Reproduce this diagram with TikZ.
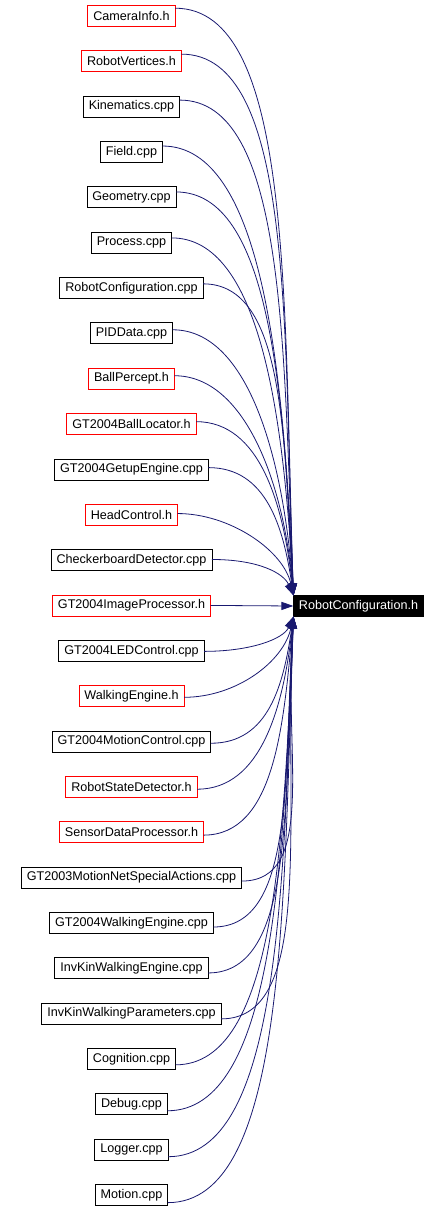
\documentclass[tikz,border=0pt]{standalone}
\usepackage{fontspec}
\setmainfont{Liberation Sans}
\usepackage{tikz}
\usetikzlibrary{positioning, arrows.meta}
\definecolor{edgeblue}{HTML}{191970}

\begin{document}
\begin{tikzpicture}[
  x=1pt, y=-1pt,
  node distance=24.34pt,
  filebox/.style={draw=black, line width=0.8pt, outer sep=0pt, minimum height=21pt, inner xsep=5.5pt, inner ysep=2pt, font=\fontsize{12.6}{14}\selectfont},
  redbox/.style={filebox, draw=red},
  target/.style={filebox, fill=black, text=white},
  arrow/.style={draw=edgeblue, line width=0.8pt, -{Triangle[length=12pt, width=8pt]}},
]
  \useasboundingbox (0,0) rectangle (439,1212);

  % Files that include the header
  \node (src1) [redbox] at (131.5,16) {CameraInfo.h};
  \node (src2) [redbox, below=of src1] {RobotVertices.h};
  \node (src3) [filebox, below=of src2] {Kinematics.cpp};
  \node (src4) [filebox, below=of src3] {Field.cpp};
  \node (src5) [filebox, below=of src4] {Geometry.cpp};
  \node (src6) [filebox, below=of src5] {Process.cpp};
  \node (src7) [filebox, below=of src6] {RobotConfiguration.cpp};
  \node (src8) [filebox, below=of src7] {PIDData.cpp};
  \node (src9) [redbox, below=of src8] {BallPercept.h};
  \node (src10) [redbox, below=of src9] {GT2004BallLocator.h};
  \node (src11) [filebox, below=of src10] {GT2004GetupEngine.cpp};
  \node (src12) [redbox, below=of src11] {HeadControl.h};
  \node (src13) [filebox, below=of src12] {CheckerboardDetector.cpp};
  \node (src14) [redbox, below=of src13] {GT2004ImageProcessor.h};
  \node (src15) [filebox, below=of src14] {GT2004LEDControl.cpp};
  \node (src16) [redbox, below=of src15] {WalkingEngine.h};
  \node (src17) [filebox, below=of src16] {GT2004MotionControl.cpp};
  \node (src18) [redbox, below=of src17] {RobotStateDetector.h};
  \node (src19) [redbox, below=of src18] {SensorDataProcessor.h};
  \node (src20) [filebox, below=of src19] {GT2003MotionNetSpecialActions.cpp};
  \node (src21) [filebox, below=of src20] {GT2004WalkingEngine.cpp};
  \node (src22) [filebox, below=of src21] {InvKinWalkingEngine.cpp};
  \node (src23) [filebox, below=of src22] {InvKinWalkingParameters.cpp};
  \node (src24) [filebox, below=of src23] {Cognition.cpp};
  \node (src25) [filebox, below=of src24] {Debug.cpp};
  \node (src26) [filebox, below=of src25] {Logger.cpp};
  \node (src27) [filebox, below=of src26] {Motion.cpp};

  % The included header
  \node (tgt) [target] at (358.5,606) {RobotConfiguration.h};

  % Edges from the files above
  \foreach \i in {1,...,13} {
    \pgfmathsetmacro\off{(14-\i)*0.6}
    \pgfmathsetmacro\len{40+(14-\i)*6}
    \pgfmathsetmacro\lift{(14-\i)*45.34*0.5}
    \draw [arrow] ([yshift=\off pt]src\i.east) .. controls +(\len,0) and +(-10,-\lift) .. (tgt.north west);
  }

  \draw [arrow] (src14.east) -- (tgt.west);

  % Edges from the files below
  \foreach \i in {15,...,27} {
    \pgfmathsetmacro\off{(\i-14)*0.6}
    \pgfmathsetmacro\len{40+(\i-14)*6}
    \pgfmathsetmacro\lift{(\i-14)*45.34*0.5}
    \draw [arrow] ([yshift=-\off pt]src\i.east) .. controls +(\len,0) and +(-10,\lift) .. (tgt.south west);
  }

\end{tikzpicture}
\end{document}
